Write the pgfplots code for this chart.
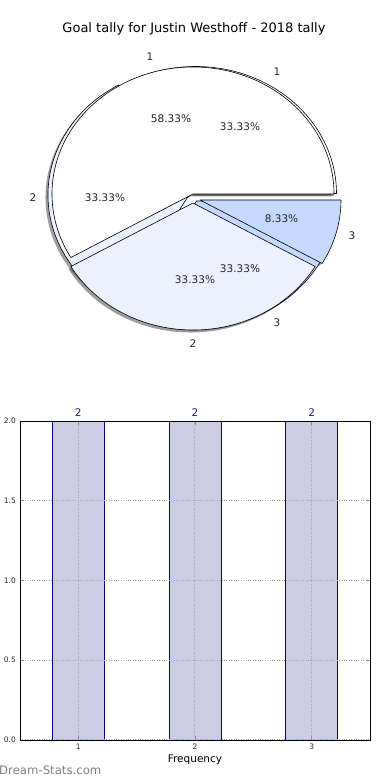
\documentclass[border=0pt]{standalone}
\usepackage{pgfplots}
\pgfplotsset{compat=1.18}
\usepackage{fontspec}
\setmainfont{DejaVu Sans}
\definecolor{wA}{RGB}{255,255,255}
\definecolor{wB}{RGB}{235,241,253}
\definecolor{wC}{RGB}{197,216,253}
\definecolor{barfill}{RGB}{204,204,229}
\definecolor{barnavy}{RGB}{0,0,128}
\definecolor{lblnavy}{RGB}{30,30,100}
% wedge: cx, cy (axis units = pt), start, end, colour
\newcommand\pieW[5]{%
  \filldraw[fill=#5, draw=black, line width=0.6pt, line join=round]
    (axis cs:#1,#2) -- (axis cs:{#1+141*cos(#3)},{#2+127*sin(#3)})
    arc[start angle=#3, end angle=#4, x radius=141pt, y radius=127pt] -- cycle;}
\newcommand\pieS[4]{%
  \fill[black!75, opacity=0.5]
    (axis cs:{#1-2.5},{#2-2.5}) -- (axis cs:{#1-2.5+141*cos(#3)},{#2-2.5+127*sin(#3)})
    arc[start angle=#3, end angle=#4, x radius=141pt, y radius=127pt] -- cycle;}
\begin{document}
\begin{tikzpicture}
\useasboundingbox (0pt,0pt) rectangle (390pt,780pt);
% ---------------- pie (two overlaid pies) ----------------
\begin{axis}[
  at={(0pt,390pt)}, anchor=south west,
  scale only axis, width=390pt, height=390pt,
  xmin=0, xmax=390, ymin=390, ymax=780,
  hide axis, clip=false]
% Pie B: counts 2,2,2 -> 0-120, 120-240, 240-360
% Pie A: counts 7,4,1 -> 0-210, 210-330, 330-360
% shadows
\pieS{195.5}{586.5}{0}{120}
\pieS{189}{585}{120}{240}
\pieS{196.5}{579}{240}{360}
\pieS{193}{586}{0}{210}
\pieS{193}{577}{210}{330}
\pieS{200}{580}{330}{360}
% Pie B
\pieW{195.5}{586.5}{0}{120}{wA}
\pieW{189}{585}{120}{240}{wB}
\pieW{196.5}{579}{240}{360}{wC}
% Pie A
\pieW{193}{586}{0}{210}{wA}
\pieW{193}{577}{210}{330}{wB}
\pieW{200}{580}{330}{360}{wC}
% labels
\begin{scope}[font=\fontsize{10.5}{12}\selectfont, text=black!85]
\node at (axis cs:277,708) {1};
\node at (axis cs:33,582) {2};
\node at (axis cs:277,457) {3};
\node at (axis cs:240,653) {33.33\%};
\node at (axis cs:105,582) {33.33\%};
\node at (axis cs:240,511) {33.33\%};
\node at (axis cs:150,723) {1};
\node at (axis cs:193,436) {2};
\node at (axis cs:352,544) {3};
\node at (axis cs:171,661) {58.33\%};
\node at (axis cs:195,500) {33.33\%};
\node at (axis cs:281.5,561) {8.33\%};
\end{scope}
\node[font=\fontsize{13}{15}\selectfont] at (axis cs:194,751) {Goal tally for Justin Westhoff - 2018 tally};
\end{axis}
% ---------------- bar chart ----------------
\begin{axis}[
  at={(20pt,40pt)}, anchor=south west,
  scale only axis, width=350pt, height=319pt,
  xmin=0.5, xmax=3.5, ymin=0, ymax=2,
  xtick={1,2,3}, ytick={0,0.5,1,1.5,2},
  /pgf/number format/assume math mode=true,
  tick label style={font=\fontsize{7.5}{9}\selectfont, text=black!85, inner sep=0pt},
  xticklabel style={yshift=-4pt},
  yticklabel style={xshift=-4pt, /pgf/number format/fixed, /pgf/number format/fixed zerofill, /pgf/number format/precision=1},
  tick align=inside, major tick length=4pt,
  tick style={black!45, line width=0.8pt},
  xtick pos=both, ytick pos=both,
  grid=major, major grid style={black!35, dotted, line width=1pt},
  axis line style={black, line width=0.8pt},
  axis on top,
  xlabel={Frequency},
  xlabel style={font=\fontsize{10.5}{12}\selectfont, inner sep=0pt, anchor=north, at={(axis description cs:0.5,0)}, yshift=-14.5pt},
  clip=false]
\addplot[ybar, bar width=0.444, fill=barfill, draw=barnavy, line width=0.7pt,
  nodes near coords,
  every node near coord/.append style={font=\fontsize{10.5}{12}\selectfont, text=lblnavy, anchor=south, inner sep=0pt, yshift=4pt},
  point meta=explicit symbolic]
  coordinates {(1,2) [2] (2,2) [2] (3,2) [2]};
\end{axis}
\node[anchor=west, inner sep=0pt, text=black!50, font=\fontsize{11.7}{13}\selectfont] at (-1pt,10pt) {Dream-Stats.com};
\end{tikzpicture}
\end{document}
